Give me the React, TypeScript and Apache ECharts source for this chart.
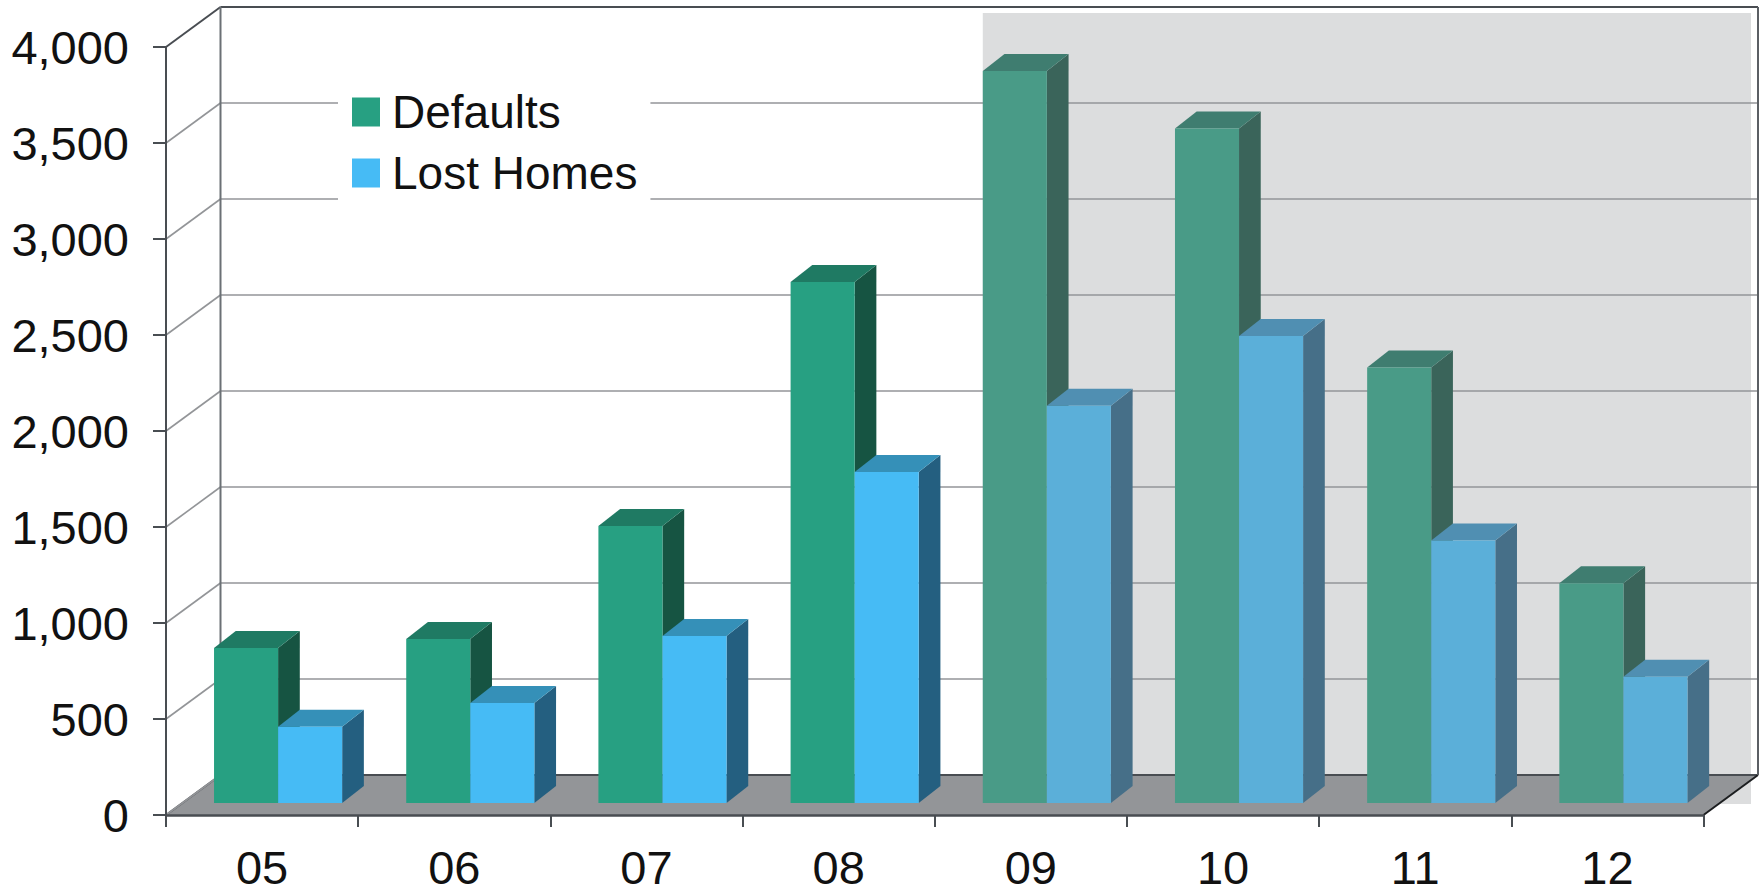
import React, { useEffect, useRef } from "react";
import * as echarts from "echarts";

const categories = ["05", "06", "07", "08", "09", "10", "11", "12"];
const defaults = [807, 854, 1443, 2713, 3813, 3513, 2268, 1145];
const lostHomes = [397, 521, 870, 1724, 2069, 2432, 1367, 658];
const yTicks = [0, 500, 1000, 1500, 2000, 2500, 3000, 3500, 4000];
const firstShaded = 4;

const defaultsSolid = { front: "#27a082", top: "#1f7a63", side: "#165442" };
const defaultsFaded = { front: "#499b87", top: "#3f7d70", side: "#3a645a" };
const lostSolid = { front: "#46bbf5", top: "#3590b8", side: "#245f80" };
const lostFaded = { front: "#5bafd9", top: "#508fb2", side: "#466f88" };

const DEPTH_X = 54.5;
const DEPTH_Y = 40;
const DARK = "#494d52";
const GRID = "#939598";

function barRender(startFactor: number, solid: any, faded: any) {
  return (params: any, api: any) => {
    const cat = api.value(0);
    const top = api.coord([cat, api.value(1)]);
    const base = api.coord([cat, 0]);
    const w = api.size([1, 0])[0] / 3;
    const x0 = top[0] + startFactor * w + 16;
    const x1 = x0 + w;
    const yT = top[1] - 12;
    const yB = base[1] - 12;
    const dx = 21.7;
    const dy = 17;
    const c = cat >= firstShaded ? faded : solid;
    return {
      type: "group",
      children: [
        { type: "polygon", shape: { points: [[x1, yT], [x1 + dx, yT - dy], [x1 + dx, yB - dy], [x1, yB]] }, style: { fill: c.side } },
        { type: "polygon", shape: { points: [[x0, yT], [x0 + dx, yT - dy], [x1 + dx, yT - dy], [x1, yT]] }, style: { fill: c.top } },
        { type: "rect", shape: { x: x0, y: yT, width: w, height: yB - yT }, style: { fill: c.front } },
      ],
    };
  };
}

function backdropRender(params: any, api: any) {
  const cs = params.coordSys;
  const center = api.coord([api.value(0), 0]);
  const w = api.size([1, 0])[0] / 3;
  const x0 = center[0] - w + 16;
  const right = cs.x + cs.width + DEPTH_X - 7;
  const top = cs.y - DEPTH_Y + 6;
  const bottom = center[1] - 11;
  return { type: "rect", shape: { x: x0, y: top, width: right - x0, height: bottom - top }, style: { fill: "#dcddde" } };
}

function floorRender(params: any, api: any) {
  const cs = params.coordSys;
  const y = api.coord([0, 0])[1];
  const l = cs.x;
  const r = cs.x + cs.width;
  return {
    type: "group",
    children: [
      { type: "polygon", shape: { points: [[l, y], [l + DEPTH_X, y - DEPTH_Y], [r + DEPTH_X, y - DEPTH_Y], [r, y]] }, style: { fill: "#939598" } },
      { type: "line", shape: { x1: l + DEPTH_X, y1: y - DEPTH_Y, x2: r + DEPTH_X, y2: y - DEPTH_Y }, style: { stroke: DARK, lineWidth: 2 } },
      { type: "line", shape: { x1: r, y1: y, x2: r + DEPTH_X, y2: y - DEPTH_Y }, style: { stroke: "#1c1e20", lineWidth: 2 } },
      { type: "line", shape: { x1: l, y1: y, x2: l + DEPTH_X, y2: y - DEPTH_Y }, style: { stroke: DARK, lineWidth: 2 } },
    ],
  };
}

function wallRender(params: any, api: any) {
  const cs = params.coordSys;
  const v = api.value(0);
  const y = api.coord([0, v])[1];
  const l = cs.x;
  const r = cs.x + cs.width;
  const isTop = v === yTicks[yTicks.length - 1];
  const children: any[] = [
    { type: "line", shape: { x1: l, y1: y, x2: l + DEPTH_X, y2: y - DEPTH_Y }, style: { stroke: isTop ? DARK : GRID, lineWidth: isTop ? 2 : 1.6 } },
  ];
  if (isTop) {
    const yB = api.coord([0, 0])[1];
    children.push(
      { type: "line", shape: { x1: l + DEPTH_X, y1: y - DEPTH_Y, x2: r + DEPTH_X, y2: y - DEPTH_Y }, style: { stroke: DARK, lineWidth: 2 } },
      { type: "line", shape: { x1: l + DEPTH_X, y1: y - DEPTH_Y, x2: l + DEPTH_X, y2: yB - DEPTH_Y }, style: { stroke: "#6b7075", lineWidth: 2 } },
      { type: "line", shape: { x1: r + DEPTH_X, y1: y - DEPTH_Y, x2: r + DEPTH_X, y2: yB - DEPTH_Y }, style: { stroke: "#5b5f64", lineWidth: 2 } },
    );
  }
  return { type: "group", children };
}

export default function App() {
  const ref = useRef<HTMLDivElement>(null);
  useEffect(() => {
    const chart = echarts.init(ref.current!, undefined, { renderer: "svg" });
    const font = "'Liberation Sans', Arial, sans-serif";
    const pairs = (vals: number[]) => vals.map((v, i) => [i, v]);
    chart.setOption({
      animation: false,
      backgroundColor: "#ffffff",
      textStyle: { fontFamily: font },
      legend: {
        data: ["Defaults", "Lost Homes"],
        orient: "vertical",
        left: 338,
        top: 79,
        padding: [10, 13, 10, 14],
        itemWidth: 28,
        itemHeight: 29,
        itemGap: 15,
        icon: "rect",
        backgroundColor: "#ffffff",
        selectedMode: false,
        z: 6,
        textStyle: { fontFamily: font, fontSize: 46, color: "#111111", padding: [0, 0, 2, 7] },
      },
      grid: [
        { left: 166, top: 47, width: 1537.5, height: 768, outerBoundsMode: "none" },
        { left: 220.5, top: 7, width: 1537.5, height: 768, outerBoundsMode: "none" },
      ],
      xAxis: [
        {
          type: "category",
          gridIndex: 0,
          data: categories,
          z: 5,
          axisLine: { lineStyle: { color: DARK, width: 2.5 } },
          axisTick: { show: true, alignWithLabel: false, length: 12, lineStyle: { color: DARK, width: 2 } },
          axisLabel: { fontFamily: font, fontSize: 47, lineHeight: 40, color: "#111111", margin: 32 },
        },
        { type: "category", gridIndex: 1, data: categories, show: false },
      ],
      yAxis: [
        {
          type: "value",
          gridIndex: 0,
          min: 0,
          max: 4000,
          interval: 500,
          z: 5,
          splitLine: { show: false },
          axisLine: { show: true, lineStyle: { color: DARK, width: 2 } },
          axisTick: { show: true, length: 13, lineStyle: { color: DARK, width: 2 } },
          axisLabel: {
            fontFamily: font,
            fontSize: 47,
            color: "#111111",
            margin: 37,
            formatter: (v: number) => v.toLocaleString("en-US"),
          },
        },
        {
          type: "value",
          gridIndex: 1,
          min: 0,
          max: 4000,
          interval: 500,
          z: 1,
          axisLine: { show: false },
          axisTick: { show: false },
          axisLabel: { show: false },
          splitLine: { show: true, lineStyle: { color: GRID, width: 1.6 } },
        },
      ],
      series: [
        { type: "custom", name: "shade", xAxisIndex: 0, yAxisIndex: 0, z: 0, silent: true, renderItem: backdropRender, encode: { x: 0 }, data: [[firstShaded]] },
        { type: "custom", name: "floor", xAxisIndex: 0, yAxisIndex: 0, z: 2, silent: true, renderItem: floorRender, data: [[0]] },
        { type: "custom", name: "walls", xAxisIndex: 0, yAxisIndex: 0, z: 2, silent: true, renderItem: wallRender, encode: { y: 0 }, data: yTicks.map((v) => [v]) },
        {
          type: "custom",
          name: "Defaults",
          xAxisIndex: 0,
          yAxisIndex: 0,
          z: 3,
          itemStyle: { color: defaultsSolid.front },
          renderItem: barRender(-1, defaultsSolid, defaultsFaded),
          encode: { x: 0, y: 1 },
          data: pairs(defaults),
        },
        {
          type: "custom",
          name: "Lost Homes",
          xAxisIndex: 0,
          yAxisIndex: 0,
          z: 3,
          itemStyle: { color: lostSolid.front },
          renderItem: barRender(0, lostSolid, lostFaded),
          encode: { x: 0, y: 1 },
          data: pairs(lostHomes),
        },
      ],
    });
    return () => chart.dispose();
  }, []);
  return <div ref={ref} style={{ position: "fixed", left: 0, top: 0, width: 1762, height: 888 }} />;
}
